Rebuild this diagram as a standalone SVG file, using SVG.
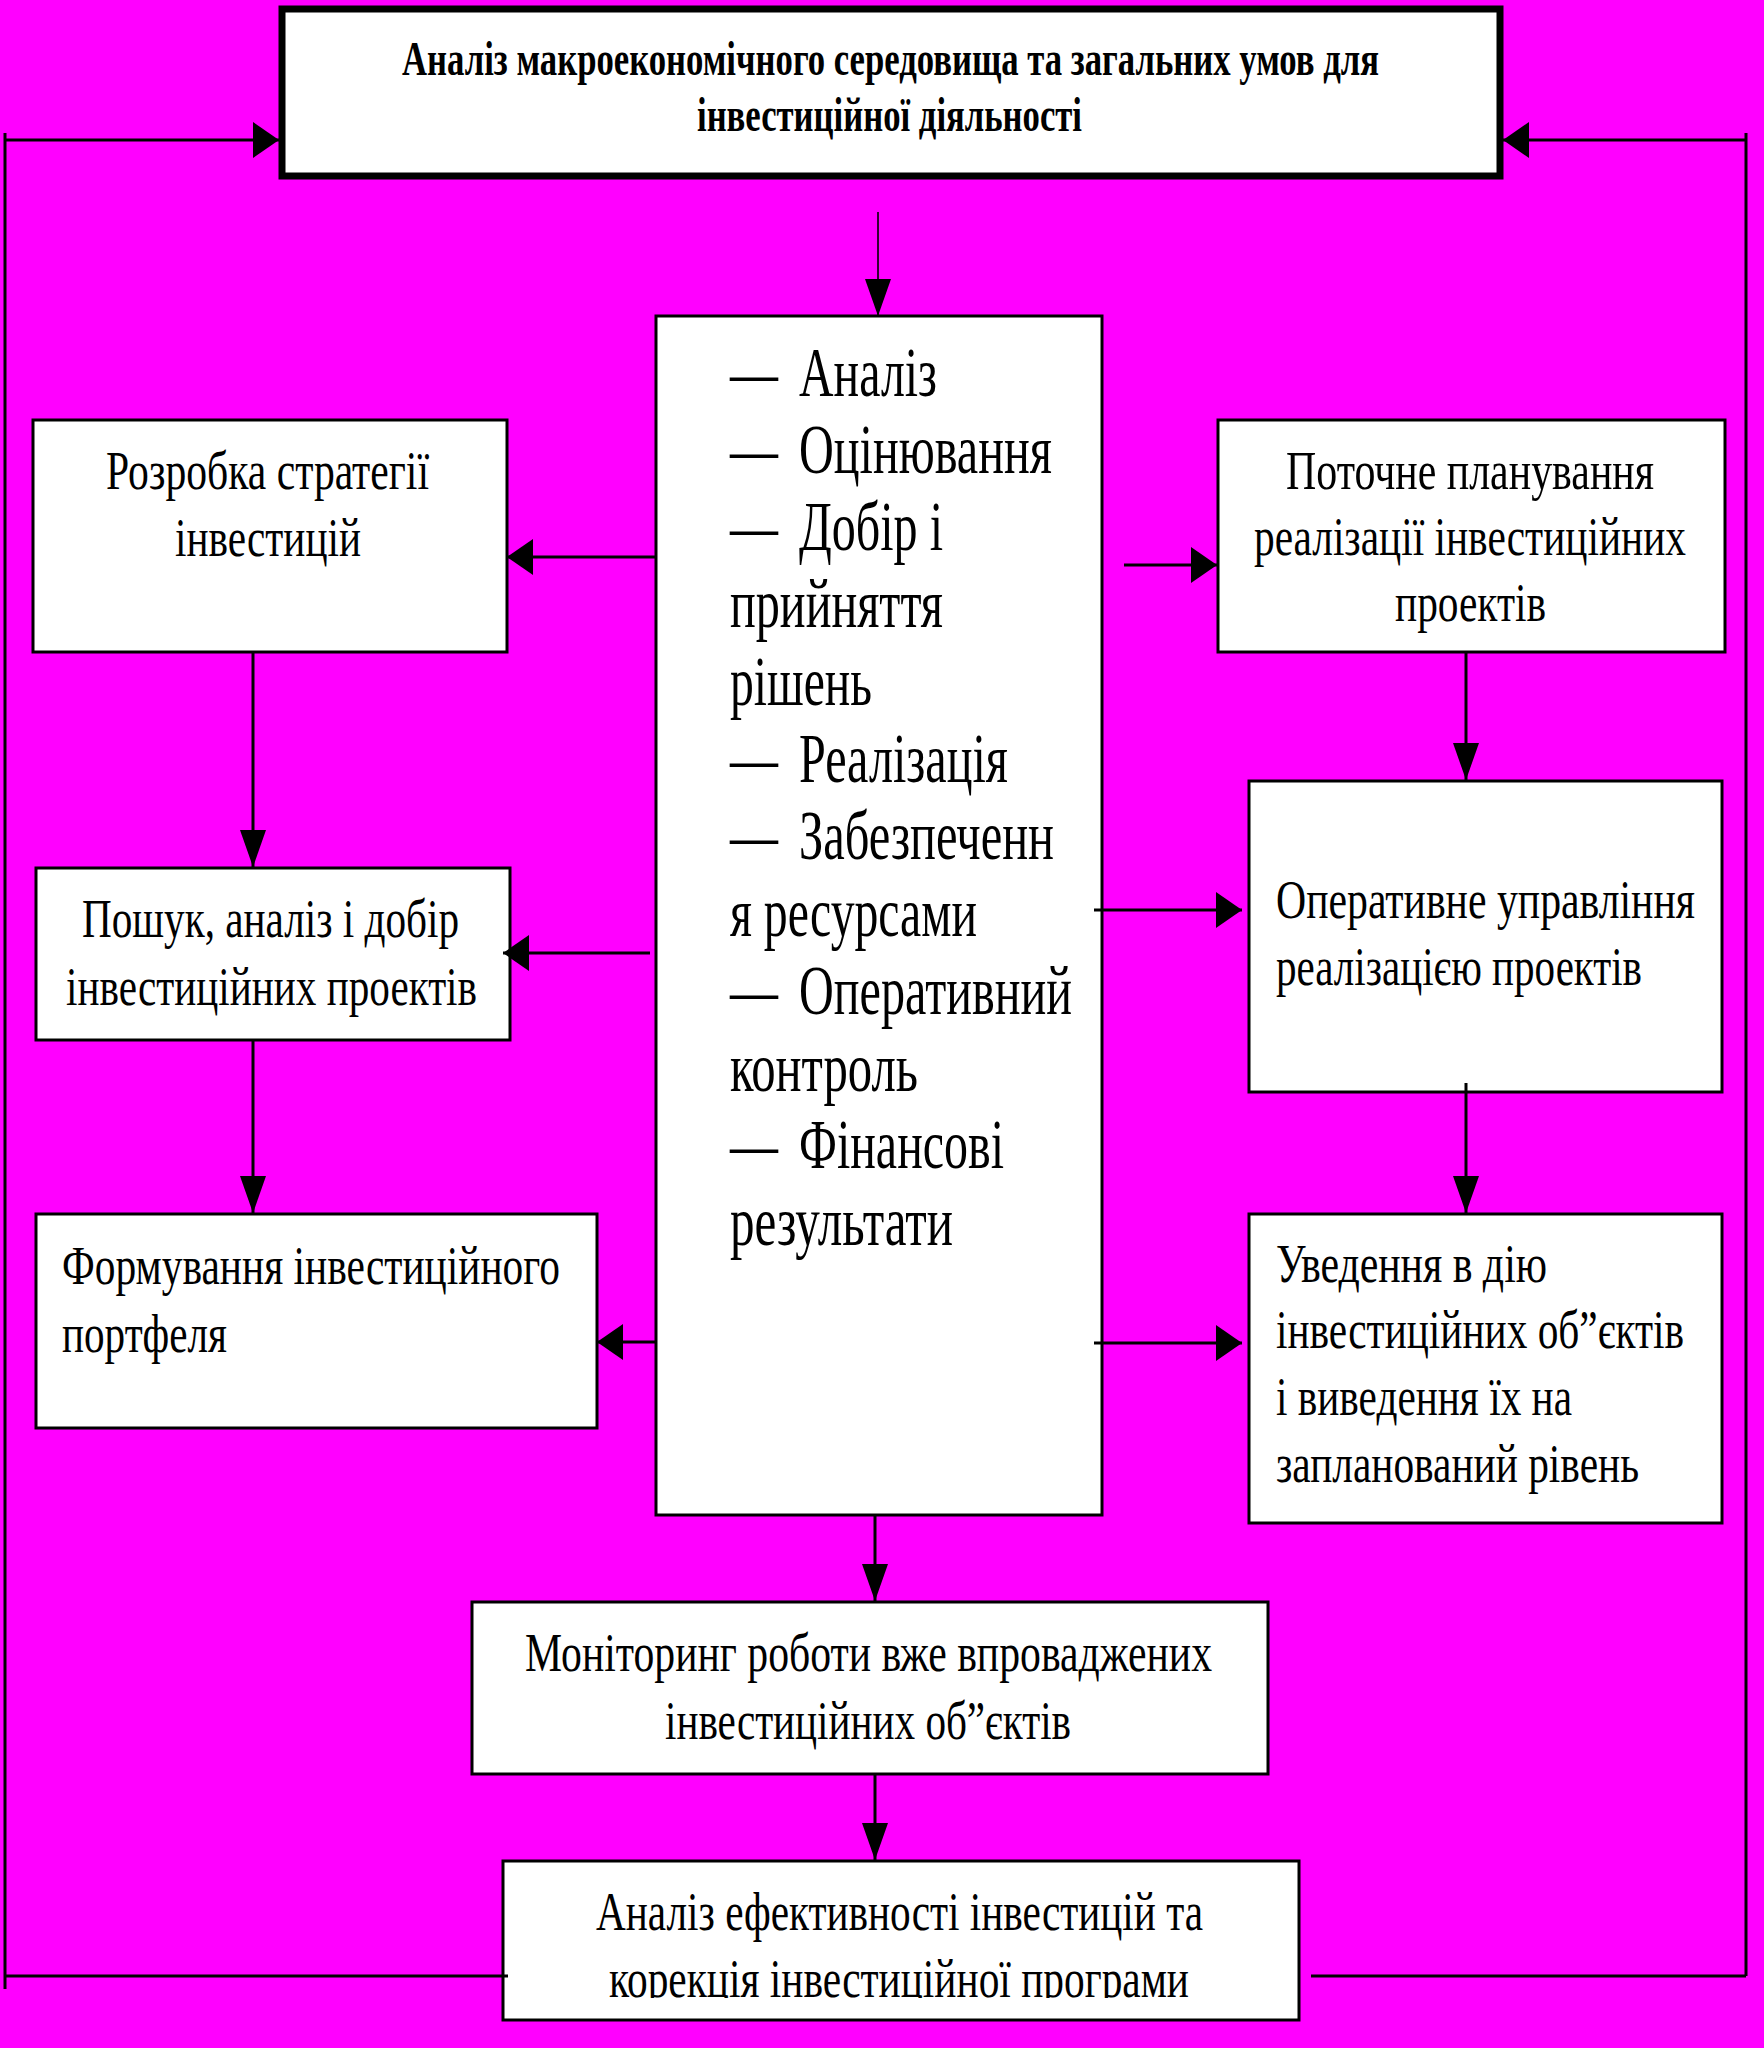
<svg xmlns="http://www.w3.org/2000/svg" width="1764" height="2048" viewBox="0 0 1764 2048">
<defs>
<style>
.bg{fill:#ff00ff}
.box{fill:#ffffff;stroke:#000000;stroke-width:3}
.topbox{fill:#ffffff;stroke:#000000;stroke-width:7}
.t{font-family:"Liberation Serif","Times New Roman",serif;font-size:55px;fill:#000000}
.tc{font-family:"Liberation Serif","Times New Roman",serif;font-size:70px;fill:#000000}
.tb{font-family:"Liberation Serif","Times New Roman",serif;font-size:48px;font-weight:bold;fill:#000000}
.ln{fill:none;stroke:#000000;stroke-width:3}
.thin{fill:none;stroke:#000000;stroke-width:1.6}
</style>
<marker id="ah" markerUnits="userSpaceOnUse" markerWidth="26" markerHeight="36" refX="26" refY="18" orient="auto" viewBox="0 0 26 36">
<path d="M0,0 L26,18 L0,36 Z" fill="#000000"/>
</marker>
<marker id="av" markerUnits="userSpaceOnUse" markerWidth="37" markerHeight="26" refX="37" refY="13" orient="auto" viewBox="0 0 37 26">
<path d="M0,0 L37,13 L0,26 Z" fill="#000000"/>
</marker>
<clipPath id="clip8">
<rect x="500" y="1860" width="800" height="138"/>
</clipPath>
</defs>
<rect class="bg" x="0" y="0" width="1764" height="2048"/>

<g id="node-top">
<rect class="topbox" x="282" y="9" width="1218" height="167"/>
<text class="tb" x="402" y="75" textLength="977" lengthAdjust="spacingAndGlyphs">Аналіз макроекономічного середовища та загальних умов для</text>
<text class="tb" x="697" y="131" textLength="385" lengthAdjust="spacingAndGlyphs">інвестиційної діяльності</text>
</g>

<g id="node-center">
<rect class="box" x="656" y="316" width="446" height="1199"/>
<text class="tc" x="730" y="396" textLength="48" lengthAdjust="spacingAndGlyphs">—</text>
<text class="tc" x="799" y="396" textLength="138" lengthAdjust="spacingAndGlyphs">Аналіз</text>
<text class="tc" x="730" y="473" textLength="48" lengthAdjust="spacingAndGlyphs">—</text>
<text class="tc" x="799" y="473" textLength="253" lengthAdjust="spacingAndGlyphs">Оцінювання</text>
<text class="tc" x="730" y="550" textLength="48" lengthAdjust="spacingAndGlyphs">—</text>
<text class="tc" x="799" y="550" textLength="144" lengthAdjust="spacingAndGlyphs">Добір і</text>
<text class="tc" x="730" y="627" textLength="213" lengthAdjust="spacingAndGlyphs">прийняття</text>
<text class="tc" x="730" y="705" textLength="142" lengthAdjust="spacingAndGlyphs">рішень</text>
<text class="tc" x="730" y="782" textLength="48" lengthAdjust="spacingAndGlyphs">—</text>
<text class="tc" x="799" y="782" textLength="209" lengthAdjust="spacingAndGlyphs">Реалізація</text>
<text class="tc" x="730" y="859" textLength="48" lengthAdjust="spacingAndGlyphs">—</text>
<text class="tc" x="799" y="859" textLength="255" lengthAdjust="spacingAndGlyphs">Забезпеченн</text>
<text class="tc" x="730" y="936" textLength="247" lengthAdjust="spacingAndGlyphs">я ресурсами</text>
<text class="tc" x="730" y="1014" textLength="48" lengthAdjust="spacingAndGlyphs">—</text>
<text class="tc" x="799" y="1014" textLength="273" lengthAdjust="spacingAndGlyphs">Оперативний</text>
<text class="tc" x="730" y="1091" textLength="188" lengthAdjust="spacingAndGlyphs">контроль</text>
<text class="tc" x="730" y="1168" textLength="48" lengthAdjust="spacingAndGlyphs">—</text>
<text class="tc" x="799" y="1168" textLength="205" lengthAdjust="spacingAndGlyphs">Фінансові</text>
<text class="tc" x="730" y="1245" textLength="223" lengthAdjust="spacingAndGlyphs">результати</text>
</g>

<g id="node-strategy">
<rect class="box" x="33" y="420" width="474" height="232"/>
<text class="t" x="106" y="489" textLength="323" lengthAdjust="spacingAndGlyphs">Розробка стратегії</text>
<text class="t" x="175" y="556" textLength="186" lengthAdjust="spacingAndGlyphs">інвестицій</text>
</g>

<g id="node-search">
<rect class="box" x="36" y="868" width="474" height="172"/>
<text class="t" x="82" y="937" textLength="377" lengthAdjust="spacingAndGlyphs">Пошук, аналіз і добір</text>
<text class="t" x="66" y="1005" textLength="411" lengthAdjust="spacingAndGlyphs">інвестиційних проектів</text>
</g>

<g id="node-portfolio">
<rect class="box" x="36" y="1214" width="561" height="214"/>
<text class="t" x="62" y="1284" textLength="498" lengthAdjust="spacingAndGlyphs">Формування інвестиційного</text>
<text class="t" x="62" y="1352" textLength="165" lengthAdjust="spacingAndGlyphs">портфеля</text>
</g>

<g id="node-planning">
<rect class="box" x="1218" y="420" width="507" height="232"/>
<text class="t" x="1286" y="489" textLength="368" lengthAdjust="spacingAndGlyphs">Поточне планування</text>
<text class="t" x="1254" y="555" textLength="432" lengthAdjust="spacingAndGlyphs">реалізації інвестиційних</text>
<text class="t" x="1395" y="621" textLength="151" lengthAdjust="spacingAndGlyphs">проектів</text>
</g>

<g id="node-operative">
<rect class="box" x="1249" y="781" width="473" height="311"/>
<text class="t" x="1276" y="918" textLength="419" lengthAdjust="spacingAndGlyphs">Оперативне управління</text>
<text class="t" x="1276" y="985" textLength="366" lengthAdjust="spacingAndGlyphs">реалізацією проектів</text>
</g>

<g id="node-commission">
<rect class="box" x="1249" y="1214" width="473" height="309"/>
<text class="t" x="1276" y="1282" textLength="271" lengthAdjust="spacingAndGlyphs">Уведення в дію</text>
<text class="t" x="1276" y="1348" textLength="408" lengthAdjust="spacingAndGlyphs">інвестиційних об”єктів</text>
<text class="t" x="1276" y="1415" textLength="296" lengthAdjust="spacingAndGlyphs">і виведення їх на</text>
<text class="t" x="1276" y="1482" textLength="363" lengthAdjust="spacingAndGlyphs">запланований рівень</text>
</g>

<g id="node-monitoring">
<rect class="box" x="472" y="1602" width="796" height="172"/>
<text class="t" x="525" y="1671" textLength="687" lengthAdjust="spacingAndGlyphs">Моніторинг роботи вже впроваджених</text>
<text class="t" x="665" y="1739" textLength="406" lengthAdjust="spacingAndGlyphs">інвестиційних об”єктів</text>
</g>

<g id="node-analysis">
<rect class="box" x="503" y="1861" width="796" height="159"/>
<text class="t" x="596" y="1930" textLength="607" lengthAdjust="spacingAndGlyphs">Аналіз ефективності інвестицій та</text>
<text class="t" x="609" y="1997" textLength="580" lengthAdjust="spacingAndGlyphs" clip-path="url(#clip8)">корекція інвестиційної програми</text>
</g>

<g id="connectors">
<path class="thin" d="M878,212 V316" marker-end="url(#av)"/>
<path class="ln" d="M5,133 V1989"/>
<path class="ln" d="M5,140 H279" marker-end="url(#ah)"/>
<path class="ln" d="M5,1976 H508"/>
<path class="ln" d="M1746,133 V1976"/>
<path class="ln" d="M1746,140 H1503" marker-end="url(#ah)"/>
<path class="ln" d="M1311,1976 H1746"/>
<path class="ln" d="M655,557 H507" marker-end="url(#ah)"/>
<path class="ln" d="M650,953 H503" marker-end="url(#ah)"/>
<path class="ln" d="M655,1342 H597" marker-end="url(#ah)"/>
<path class="ln" d="M253,652 V867" marker-end="url(#av)"/>
<path class="ln" d="M253,1040 V1213" marker-end="url(#av)"/>
<path class="ln" d="M1124,565 H1217" marker-end="url(#ah)"/>
<path class="ln" d="M1466,652 V780" marker-end="url(#av)"/>
<path class="ln" d="M1094,910 H1242" marker-end="url(#ah)"/>
<path class="ln" d="M1466,1083 V1213" marker-end="url(#av)"/>
<path class="ln" d="M1094,1343 H1242" marker-end="url(#ah)"/>
<path class="ln" d="M875,1515 V1601" marker-end="url(#av)"/>
<path class="ln" d="M875,1774 V1860" marker-end="url(#av)"/>
</g>
</svg>
